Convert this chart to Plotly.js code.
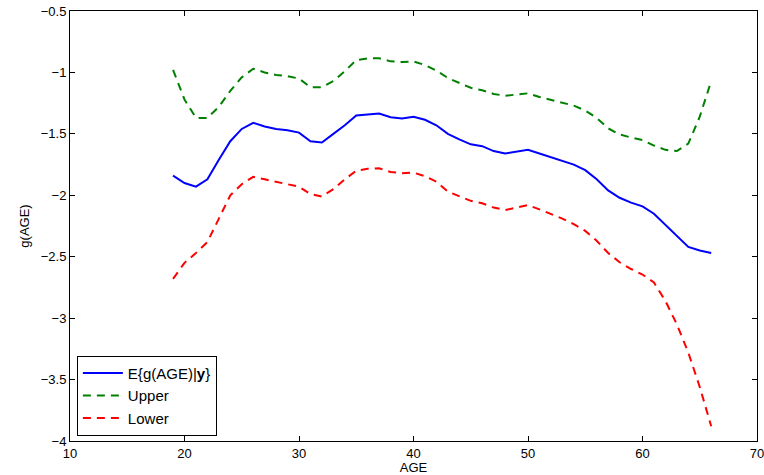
<!DOCTYPE html>
<html><head><meta charset="utf-8">
<script src="https://cdn.plot.ly/plotly-3.0.1.min.js"></script>
<style>body{margin:0;padding:0;background:#fff}#chart{width:764px;height:475px}</style>
</head><body><div id="chart"></div>
<script>
const age = [19,20,21,22,23,24,25,26,27,28,29,30,31,32,33,34,35,36,37,38,39,40,41,42,43,44,45,46,47,48,49,50,51,52,53,54,55,56,57,58,59,60,61,62,63,64,65,66];
const meanVals = [-1.84,-1.90,-1.93,-1.87,-1.71,-1.56,-1.46,-1.41,-1.44,-1.46,-1.47,-1.49,-1.56,-1.57,-1.50,-1.43,-1.35,-1.34,-1.335,-1.365,-1.375,-1.36,-1.385,-1.43,-1.50,-1.545,-1.585,-1.60,-1.64,-1.66,-1.645,-1.63,-1.66,-1.69,-1.72,-1.75,-1.795,-1.87,-1.96,-2.02,-2.06,-2.09,-2.15,-2.24,-2.33,-2.42,-2.45,-2.47];
const upperVals = [-0.98,-1.22,-1.37,-1.37,-1.28,-1.15,-1.04,-0.97,-1.00,-1.02,-1.03,-1.05,-1.12,-1.12,-1.07,-0.99,-0.90,-0.885,-0.885,-0.91,-0.915,-0.91,-0.94,-0.985,-1.045,-1.085,-1.125,-1.145,-1.175,-1.19,-1.18,-1.17,-1.20,-1.225,-1.25,-1.27,-1.31,-1.37,-1.455,-1.505,-1.53,-1.55,-1.595,-1.63,-1.64,-1.58,-1.36,-1.07];
const lowerVals = [-2.68,-2.55,-2.47,-2.38,-2.19,-2.00,-1.91,-1.85,-1.87,-1.89,-1.905,-1.93,-1.99,-2.01,-1.95,-1.87,-1.80,-1.785,-1.78,-1.81,-1.82,-1.815,-1.845,-1.89,-1.97,-2.01,-2.045,-2.065,-2.10,-2.12,-2.10,-2.08,-2.115,-2.15,-2.19,-2.235,-2.29,-2.37,-2.47,-2.545,-2.60,-2.645,-2.71,-2.86,-3.05,-3.28,-3.56,-3.88];
const seriesNames = ["E{g(AGE)|<b>y</b>}", "Upper", "Lower"];
const xTicks = [10,20,30,40,50,60,70];
const yTicks = [-4,-3.5,-3,-2.5,-2,-1.5,-1,-0.5];

const traces = [
  {x: age, y: meanVals, name: seriesNames[0], mode: 'lines', line: {color: '#0000ff', width: 2}},
  {x: age, y: upperVals, name: seriesNames[1], mode: 'lines', line: {color: '#008000', width: 2, dash: '8px,6px'}},
  {x: age, y: lowerVals, name: seriesNames[2], mode: 'lines', line: {color: '#ff0000', width: 2, dash: '8px,6px'}}
];
const axisCommon = {
  showgrid: false, zeroline: false, showline: true, mirror: 'ticks', linecolor: '#000', linewidth: 1,
  ticks: 'inside', ticklen: 5, tickcolor: '#000', tickfont: {size: 13, color: '#000'},
  ticklabeloverflow: 'allow'
};
const layout = {
  width: 764, height: 475,
  margin: {l: 70, r: 7, t: 11, b: 34},
  paper_bgcolor: '#fff', plot_bgcolor: '#fff',
  font: {family: 'Liberation Sans, Arial, sans-serif', size: 13, color: '#000'},
  showlegend: true,
  legend: {x: 0.01, y: 0.012, xanchor: 'left', yanchor: 'bottom', bordercolor: '#000', borderwidth: 1,
           bgcolor: '#fff', font: {size: 15}, tracegroupgap: 0, itemwidth: 40},
  xaxis: Object.assign({}, axisCommon, {range: [10, 70], tickvals: xTicks, title: {text: 'AGE', standoff: 2, font: {size: 13}}}),
  yaxis: Object.assign({}, axisCommon, {range: [-4, -0.5], tickvals: yTicks, title: {text: 'g(AGE)', standoff: 8, font: {size: 13}}})
};
Plotly.newPlot('chart', traces, layout, {staticPlot: true, displayModeBar: false});
</script></body></html>
